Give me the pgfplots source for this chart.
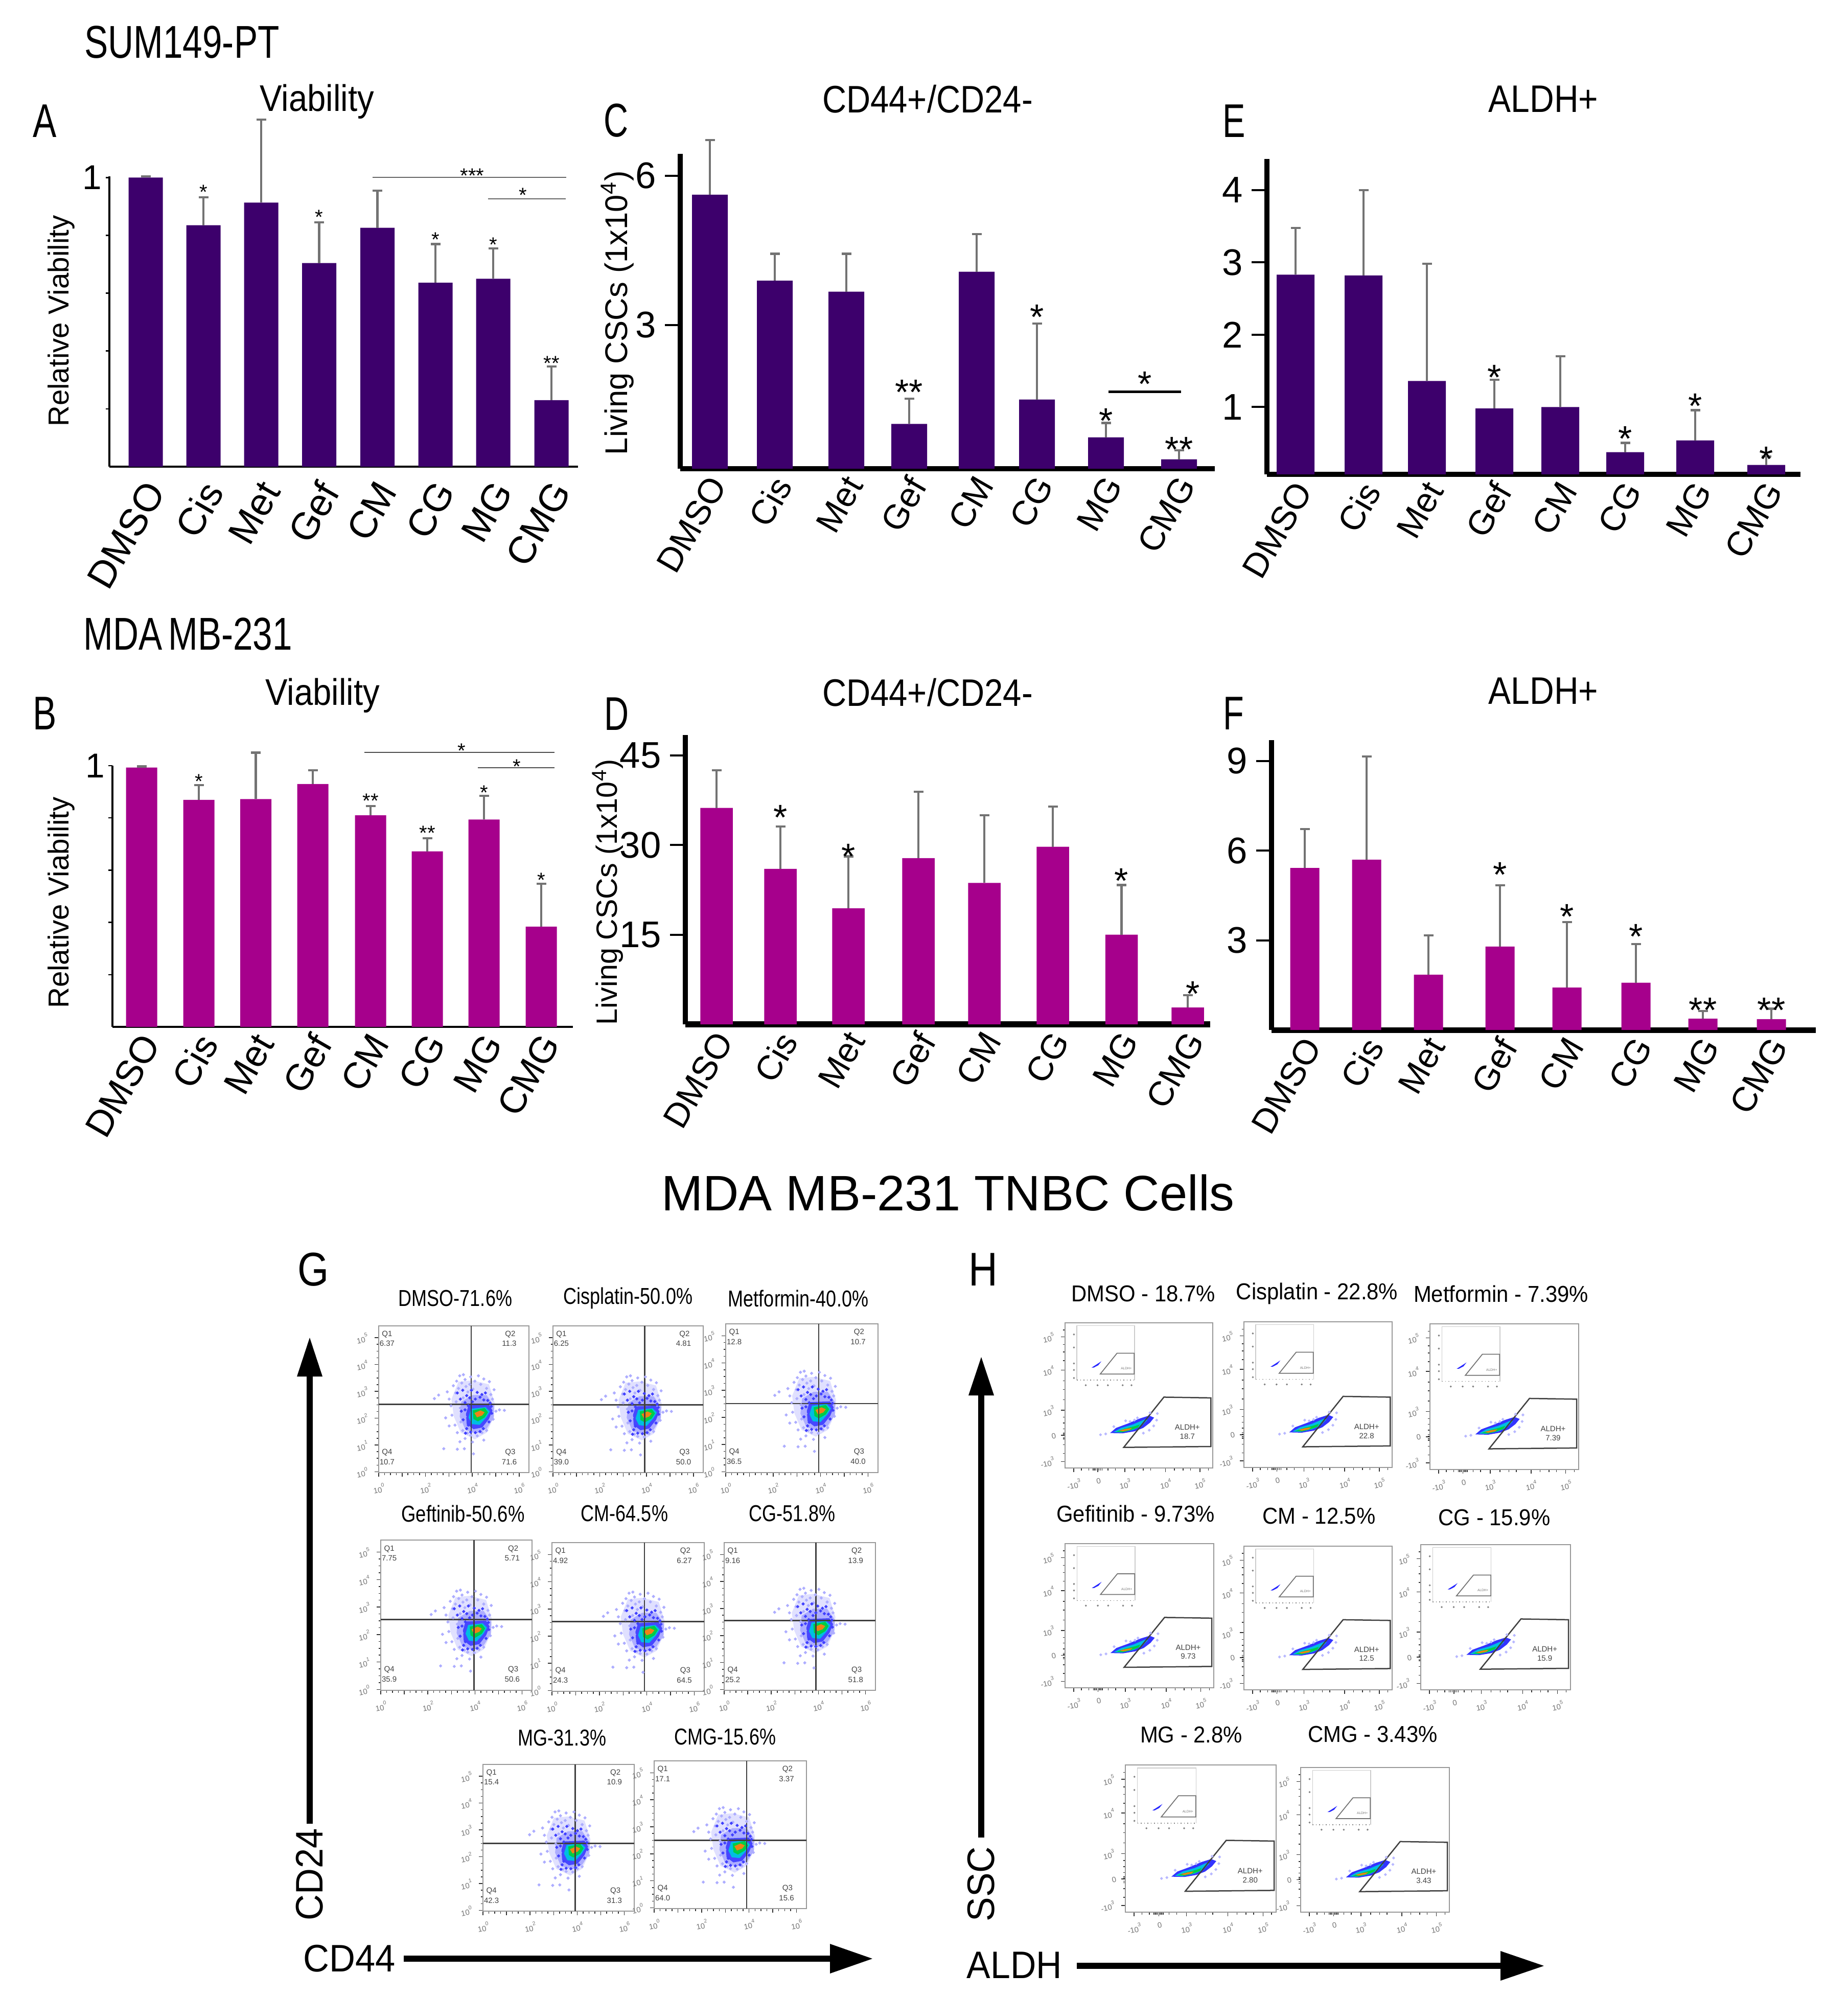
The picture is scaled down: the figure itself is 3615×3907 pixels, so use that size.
\documentclass[border=0pt]{standalone}
\usepackage{fontspec}
\usepackage{graphicx}
\usepackage{pgfplots}
\usepackage{pgfplotstable}
\pgfplotsset{compat=1.18}
\setmainfont{Liberation Sans}

\definecolor{dpurple}{RGB}{61,0,108}
\definecolor{dmagenta}{RGB}{166,0,140}
\definecolor{fcyan}{RGB}{0,190,225}
\definecolor{fgreen}{RGB}{0,205,70}
\definecolor{forange}{RGB}{240,130,20}

\newcommand\fs[1]{\fontsize{#1}{#1}\selectfont}
% x, y, size, xscale, text (positions are pixels of the reference)
\newcommand\txt[6][0]{\node[inner sep=0,rotate=#1] at (#2,#3) {\fs{#4}\scalebox{#5}[1]{#6}};}

% bar data: x position (px), bar height, error
\pgfplotstableread{
x v e
285 1.000 .004
398 .835 .097
511 .913 .287
624.5 .704 .141
738.5 .826 .128
852 .636 .134
965 .65 .105
1079 .23 .117
}\tabA
\pgfplotstableread{
x v e
277 .993 .004
389 .869 .056
500.5 .872 .178
612 .93 .052
725 .81 .035
836 .672 .05
947 .794 .091
1059 .384 .164
}\tabB
\pgfplotstableread{
x v e
1389 5.62 1.10
1516 3.89 .54
1656 3.67 .76
1779 1.01 .51
1911 4.07 .76
2029 1.50 1.53
2164 .74 .29
2307 .30 .18
}\tabC
\pgfplotstableread{
x v e
1402 36.2 6.3
1527 26.0 7.1
1660 19.4 8.7
1797 27.8 11.1
1926 23.65 11.35
2060 29.7 6.75
2194.5 15 8.3
2324 2.82 2.08
}\tabD
\pgfplotstableread{
x v e
2535 2.83 .645
2668 2.82 1.18
2792 1.36 1.62
2924 .98 .40
3053 1.0 .70
3180 .376 .128
3317 .54 .417
3456 .20 .115
}\tabE
\pgfplotstableread{
x v e
2553 5.42 1.31
2674 5.70 3.46
2795 1.85 1.31
2935 2.79 2.05
3066 1.42 2.19
3201 1.58 1.30
3332 .38 .25
3466 .36 .35
}\tabF

% flow cytometry, CD44/CD24 cloud, offsets in decades from the densest spot
\pgfplotstableread{
dx dy
-1.93 .57
-1.75 .70
-1.38 .82
-1.30 .55
-1.22 .30
-1.18 -.05
-1.45 -.15
-1.30 -.45
-1.05 -.42
-1.12 1.05
-1.02 .78
-.98 1.22
-.90 .95
-.85 1.42
-.76 1.15
-.69 1.46
-.62 1.28
-.58 1.02
-.50 .82
-.42 1.10
-.38 1.38
-.28 .92
-.20 1.22
-.05 1.42
.05 1.10
.18 1.30
.30 .95
.42 1.20
.48 .72
.55 .55
.62 .90
-1.00 .45
-.82 .22
-.70 .60
-.62 -.10
-.80 -.30
-.95 -.70
-.72 -.62
-.84 -1.04
-.62 -.92
-.52 -.72
-.38 -.80
-.30 -1.05
-.10 -.82
.10 -.70
.18 -.98
.30 -.62
-1.53 -1.30
-.95 -1.32
-.65 -1.30
-.26 -1.49
.58 -.20
.70 .10
.85 .15
1.06 .13
}\gPale
\pgfplotstableread{
dx dy
-.95 .78
-.82 .55
-.72 .88
-.62 .42
-.55 .68
-.48 .30
-.42 .60
-.35 .88
-.30 .45
-.18 .55
-.10 .80
.02 .62
.10 .72
.18 .52
.25 .78
.35 .50
.45 .40
-.78 .10
-.70 -.22
-.62 .15
-.55 -.55
-.48 -.42
-.60 -.72
-.38 -.68
-.18 -.70
.02 -.66
.16 -.55
.40 -.30
.52 .02
.50 .28
}\gMid
\pgfplotstableread{
dx dy
-1.2 .55
-.9 1.2
-.3 1.25
.4 1.1
.65 .4
.62 -.1
.3 -.7
-.2 -.95
-.8 -.7
-1.1 -.1
}\gHalo
\pgfplotstableread{
dx dy
-.78 .45
-.3 .7
.3 .7
.62 .3
.6 -.15
.3 -.55
-.1 -.72
-.6 -.6
-.85 -.1
}\gHaloB
\pgfplotstableread{
dx dy
-.47 .32
.40 .35
.55 .13
.40 -.19
.11 -.51
-.26 -.57
-.55 -.38
-.58 0
}\gBlue
\pgfplotstableread{
dx dy
-.36 .19
.26 .25
.44 .09
.29 -.13
0 -.41
-.33 -.38
-.47 -.13
}\gCyan
\pgfplotstableread{
dx dy
-.29 .13
.22 .22
.36 .06
.22 -.13
-.07 -.28
-.26 -.19
}\gGreen
\pgfplotstableread{
dx dy
-.22 .03
.04 .13
.22 .06
.11 -.06
-.11 -.13
}\gOrange

% flow cytometry, ALDH panels, fractions of the frame
\pgfplotstableread{
x y
.397 .142
.669 .488
.987 .483
.987 .148
}\hGate
\pgfplotstableread{
x y
.238 .647
.352 .791
.468 .791
.468 .647
}\hMini
\pgfplotstableread{
x y
.305 .241
.345 .276
.425 .306
.506 .341
.569 .361
.603 .347
.575 .312
.529 .276
.471 .253
.391 .239
}\hBlue
\pgfplotstableread{
x y
.328 .247
.379 .276
.46 .3
.54 .335
.557 .33
.517 .288
.46 .262
.379 .244
}\hCyan
\pgfplotstableread{
x y
.345 .25
.402 .27
.471 .288
.506 .3
.494 .279
.448 .262
.391 .247
}\hGreen
\pgfplotstableread{
x y
.368 .259
.414 .27
.454 .276
.437 .262
.391 .253
}\hOrange
\pgfplotstableread{
x y
.24 .229
.275 .235
.33 .285
.44 .32
.47 .33
.575 .38
.625 .375
.62 .33
.60 .29
.57 .26
.53 .24
.49 .345
.41 .325
}\hPale
\pgfplotstableread{
x y
.18 .692
.205 .708
.246 .735
.225 .708
.195 .692
}\hTiny

\pgfplotsset{
  barax/.style={
    scale only axis, anchor=south west, clip=false,
    axis x line*=bottom, axis y line*=left,
    axis line style={-},
    /pgf/number format/assume math mode=true,
    xtick=data,
    xticklabels={DMSO,Cis,Met,Gef,CM,CG,MG,CMG},
    xticklabel style={rotate=60,anchor=north east,font=\fs{13.5},inner sep=0,xshift=3.2pt,yshift=3.24pt},
    yticklabel style={font=\fs{14.5}},
    x tick style={draw=none},
    y tick style={black},
    tick align=outside,
    major tick length=6pt,
  },
  thinax/.style={
    xticklabel style={font=\fs{15},xshift=-6.2pt,yshift=-3.74pt},
    x axis line style={line width=.9pt},y axis line style={line width=.8pt},
    y tick style={line width=.5pt},major tick length=1.5pt,
    yticklabel style={font=\fs{13.5},xshift=2pt},
  },
  flowax/.style={
    scale only axis, anchor=south west,
    axis line style={black!40,line width=.45pt},
    xtick pos=bottom, ytick pos=left,
    tick align=outside,
    tick style={black!80,line width=.3pt},
    major tick length=1.6pt, minor tick length=.9pt,
    ticklabel style={font=\fs{3},text=black!55,inner sep=.5pt,rotate=12},
  },
  gax/.style={
    flowax,
    xmin=0,xmax=6.42,ymin=-.03,ymax=5.44,
    xtick={0,1,...,6},
    xticklabels={10\textsuperscript{0},,10\textsuperscript{2},,10\textsuperscript{4},,10\textsuperscript{6}},
    ytick={0,1,...,5},
    yticklabels={10\textsuperscript{0},10\textsuperscript{1},10\textsuperscript{2},10\textsuperscript{3},10\textsuperscript{4},10\textsuperscript{5}},
    minor tick num=3,
    xticklabel style={yshift=-1.5pt},
    yticklabel style={xshift=-1pt},
  },
  hax/.style={
    flowax,
    xmin=0,xmax=1,ymin=0,ymax=1,
    xtick={.058,.222,.405,.68,.913},
    xticklabels={-10\textsuperscript{3},0,10\textsuperscript{3},10\textsuperscript{4},10\textsuperscript{5}},
    ytick={.045,.225,.398,.674,.903},
    yticklabels={-10\textsuperscript{3},0,10\textsuperscript{3},10\textsuperscript{4},10\textsuperscript{5}},
    minor xtick={.11,.16,.19,.2,.21,.23,.24,.25,.29,.34,.47,.53,.58,.74,.8,.85,.97},
    minor ytick={.1,.16,.2,.21,.23,.24,.27,.31,.35,.47,.54,.6,.74,.8,.85,.95},
    xticklabel style={yshift=-1.5pt},
    yticklabel style={xshift=-1pt},
  },
}

% L R T B options table colour body
\newcommand\barplot[8]{%
  \pgfmathsetlengthmacro\W{(#2-#1)*0.2pt}%
  \pgfmathsetlengthmacro\H{(#4-#3)*0.2pt}%
  \begin{axis}[barax,at={(#1*0.2pt,-#4*0.2pt)},width=\W,height=\H,xmin=#1,xmax=#2,#5]
    \addplot[ybar,bar width=\barw,fill=#7,draw=none,
      error bars/.cd,y dir=plus,y explicit,
      error bar style={black!55,line width=.95pt},
      error mark options={rotate=90,black!55,mark size=1.9pt,line width=.85pt}]
      table[x=x,y=v,y error=e] {#6};
    #8
  \end{axis}}
% size, then "(x,y)[text]" coordinates
\newcommand\stars[2]{%
  \addplot[draw=none,mark=none,nodes near coords,point meta=explicit symbolic,
    every node near coord/.append style={anchor=center,inner sep=0,font=\fs{#1},yshift=-#1*0.22pt}]
    coordinates {#2};}

% L R T B vline hline hotx hoty q1/q2/q3/q4
\def\splitq#1/#2/#3/#4\relax{\def\qa{#1}\def\qb{#2}\def\qc{#3}\def\qd{#4}}
\newcommand\gpanel[9]{%
  \pgfmathsetlengthmacro\W{(#2-#1)*0.2pt}%
  \pgfmathsetlengthmacro\H{(#4-#3)*0.2pt}%
  \splitq#9\relax
  \begin{axis}[gax,at={(#1*0.2pt,-#4*0.2pt)},width=\W,height=\H]
    \addplot[fill=blue!12,draw=none] table[x expr=\thisrow{dx}+#7,y expr=\thisrow{dy}+#8] {\gHalo} -- cycle;
    \addplot[only marks,mark=*,mark size=.38pt,blue!32,mark options={draw=none}] table[x expr=\thisrow{dx}+#7,y expr=\thisrow{dy}+#8] {\gPale};
    \addplot[fill=blue!32,draw=none] table[x expr=\thisrow{dx}+#7,y expr=\thisrow{dy}+#8] {\gHaloB} -- cycle;
    \addplot[only marks,mark=*,mark size=.38pt,blue!75,mark options={draw=none}] table[x expr=\thisrow{dx}+#7,y expr=\thisrow{dy}+#8] {\gMid};
    \addplot[fill=blue!72,draw=none] table[x expr=\thisrow{dx}+#7,y expr=\thisrow{dy}+#8] {\gBlue} -- cycle;
    \addplot[fill=fcyan,draw=none] table[x expr=\thisrow{dx}+#7,y expr=\thisrow{dy}+#8] {\gCyan} -- cycle;
    \addplot[fill=fgreen,draw=none] table[x expr=\thisrow{dx}+#7,y expr=\thisrow{dy}+#8] {\gGreen} -- cycle;
    \addplot[fill=forange,draw=none] table[x expr=\thisrow{dx}+#7,y expr=\thisrow{dy}+#8] {\gOrange} -- cycle;
    \addplot[black!75,line width=.55pt] coordinates {(0,#6) (6.42,#6)};
    \addplot[black!75,line width=.55pt] coordinates {(#5,-.03) (#5,5.44)};
    \addplot[draw=none,mark=none,nodes near coords,point meta=explicit symbolic,
      every node near coord/.append style={anchor=center,inner sep=0,font=\fs{3},text=black!75}]
      coordinates {(.36,5.12)[Q1] (.36,4.78)[\qa] (5.62,5.12)[Q2] (5.58,4.78)[\qb]
                   (5.62,.72)[Q3] (5.58,.37)[\qc] (.36,.72)[Q4] (.36,.37)[\qd]};
  \end{axis}}

% L R T B value
\newcommand\hpanel[5]{%
  \pgfmathsetlengthmacro\W{(#2-#1)*0.2pt}%
  \pgfmathsetlengthmacro\H{(#4-#3)*0.2pt}%
  \begin{axis}[hax,at={(#1*0.2pt,-#4*0.2pt)},width=\W,height=\H]
    \addplot[black!20,line width=.3pt] coordinates {(.08,.605) (.08,.98) (.47,.98) (.47,.605)};
    \addplot[black!50,line width=.3pt,densely dotted] coordinates {(.08,.605) (.47,.605)};
    \addplot[only marks,mark=*,mark size=.12pt,black!50,mark options={draw=none}] coordinates
      {(.06,.92) (.06,.83) (.06,.72) (.06,.675) (.06,.62) (.14,.57) (.22,.57) (.29,.57) (.39,.57) (.45,.57)};
    \addplot[black!55,line width=.35pt] table {\hMini} -- cycle;
    \addplot[fill=blue!85,draw=none] table {\hTiny} -- cycle;
    \addplot[only marks,mark=*,mark size=.32pt,blue!28,mark options={draw=none}] table {\hPale};
    \addplot[fill=blue!80,draw=none] table {\hBlue} -- cycle;
    \addplot[fill=fcyan,draw=none] table {\hCyan} -- cycle;
    \addplot[fill=fgreen,draw=none] table {\hGreen} -- cycle;
    \addplot[fill=forange,draw=none] table {\hOrange} -- cycle;
    \addplot[black!75,line width=.5pt] table {\hGate} -- cycle;
    \addplot[draw=none,mark=none,nodes near coords,point meta=explicit symbolic,
      every node near coord/.append style={anchor=center,inner sep=0,font=\fs{3},text=black!75}]
      coordinates {(.828,.28)[ALDH+] (.828,.218)[#5]};
    \addplot[draw=none,mark=none,nodes near coords,point meta=explicit symbolic,
      every node near coord/.append style={anchor=center,inner sep=0,font=\fs{1.3},text=black!55}]
      coordinates {(.415,.685)[ALDH+]};
  \end{axis}}

\begin{document}
\begin{tikzpicture}[x=0.2pt,y=-0.2pt]
\path[use as bounding box] (0,0) rectangle (3615,3907);

% panel A
\def\barw{67}
\barplot{214}{1131}{345}{913}{thinax,ymin=0,ymax=1.004,ytick={.2,.4,.6,.8,1},yticklabels={,,,,1}}{\tabA}{dpurple}{%
  \addplot[black!60,line width=.4pt] coordinates {(729,1.0) (1108,1.0)};
  \addplot[black!60,line width=.4pt] coordinates {(955,.927) (1107,.927)};
  \stars{8}{(398,.966)[*] (624.5,.878)[*] (852,.80)[*] (965,.784)[*] (1079,.373)[**] (924,1.022)[***] (1023,.955)[*]}}

% panel B
\def\barw{61}
\barplot{220}{1121}{1498}{2009}{thinax,xticklabel style={font=\fs{14.5},xshift=2.6pt,yshift=1.5pt},ymin=0,ymax=1,ytick={.2,.4,.6,.8,1},yticklabels={,,,,1}}{\tabB}{dmagenta}{%
  \addplot[black!70,line width=.4pt] coordinates {(713,1.05) (1085,1.05)};
  \addplot[black!70,line width=.4pt] coordinates {(935,.993) (1085,.993)};
  \stars{8}{(389,.957)[*] (725,.882)[**] (836,.759)[**] (947,.915)[*] (1059,.579)[*] (903,1.075)[*] (1011,1.013)[*]}}

% panel C
\def\barw{70}
\barplot{1331}{2377}{301}{917}{ymin=.11,ymax=6.44,ytick={3,6},
  x axis line style={line width=1.9pt},y axis line style={line width=1.9pt},
  y tick style={line width=.8pt}}{\tabC}{dpurple}{%
  \addplot[black,line width=.9pt] coordinates {(2169,1.655) (2311,1.655)};
  \stars{14}{(1779,1.81)[**] (2029,3.32)[*] (2164,1.23)[*] (2307,.655)[**] (2240,1.97)[*]}}

% panel D
\def\barw{63.5}
\barplot{1341}{2368}{1438}{2004}{ymin=0,ymax=48.4,ytick={15,30,45},
  x axis line style={line width=2.4pt},y axis line style={line width=2pt},
  y tick style={line width=.8pt}}{\tabD}{dmagenta}{%
  \stars{14}{(1527,35.9)[*] (1660,29.4)[*] (2194.5,25.3)[*] (2334,6.4)[*]}}

% panel E
\def\barw{74}
\barplot{2479}{3523}{311}{928}{ymin=.07,ymax=4.43,ytick={1,2,3,4},
  x axis line style={line width=1.9pt},y axis line style={line width=1.9pt},
  y tick style={line width=.8pt}}{\tabE}{dpurple}{%
  \stars{14}{(2924,1.52)[*] (3180,.67)[*] (3317,1.12)[*] (3456,.386)[*]}}

% panel F
\def\barw{57}
\barplot{2488}{3553}{1448}{2015}{ymin=0,ymax=9.7,ytick={3,6,9},
  x axis line style={line width=2.2pt},y axis line style={line width=2pt},
  y tick style={line width=.8pt}}{\tabF}{dmagenta}{%
  \stars{14}{(2935,5.45)[*] (3066,4.06)[*] (3201,3.39)[*] (3332,.92)[**] (3466,.92)[**]}}

% headings of the bar charts
\txt{356}{83}{18}{.77}{SUM149-PT}
\txt{368}{1240}{18}{.77}{MDA\,MB-231}
\txt{620}{199}{14.5}{.9}{Viability}
\txt{631}{1361}{14.5}{.9}{Viability}
\txt{1815}{194}{15}{.87}{CD44+/CD24-}
\txt{1815}{1355}{15}{.87}{CD44+/CD24-}
\txt{3020}{194}{15}{.88}{ALDH+}
\txt{3020}{1352}{15}{.88}{ALDH+}
\txt{88}{237}{18.5}{.75}{A}
\txt{88}{1396}{18.5}{.75}{B}
\txt{1206}{236}{18.5}{.72}{C}
\txt{1207}{1397}{18.5}{.72}{D}
\txt{2415}{237}{18.5}{.72}{E}
\txt{2414}{1396}{18.5}{.72}{F}
\txt[90]{120}{628}{11.3}{1}{Relative Viability}
\txt[90]{120}{1766}{11.3}{1}{Relative Viability}
\txt[90]{1208}{612}{12.3}{1}{Living CSCs (1x10\textsuperscript{4})}
\txt[90]{1189}{1745}{11.5}{1}{Living CSCs (1x10\textsuperscript{4})}

\txt{1855}{2334}{19.5}{1}{MDA MB-231 TNBC Cells}
\txt{613}{2484}{18.5}{.85}{G}
\txt{1924}{2484}{18.5}{.85}{H}

% CD44/CD24 panels
\gpanel{741}{1035}{2594}{2881}{3.95}{2.52}{4.31}{2.16}{6.37/11.3/71.6/10.7}
\gpanel{1082}{1376}{2594}{2881}{3.92}{2.50}{4.00}{2.12}{6.25/4.81/50.0/39.0}
\gpanel{1420}{1718}{2590}{2881}{3.92}{2.51}{4.00}{2.24}{12.8/10.7/40.0/36.5}
\gpanel{745}{1041}{3013}{3307}{3.95}{2.55}{4.07}{2.16}{7.75/5.71/50.6/35.9}
\gpanel{1080}{1378}{3018}{3309}{3.90}{2.53}{4.10}{2.16}{4.92/6.27/64.5/24.3}
\gpanel{1417}{1713}{3018}{3307}{3.90}{2.55}{4.07}{2.29}{9.16/13.9/51.8/25.2}
\gpanel{945}{1241}{3452}{3739}{3.91}{2.50}{3.91}{2.25}{15.4/10.9/31.3/42.3}
\gpanel{1280}{1578}{3445}{3734}{3.90}{2.50}{3.60}{2.25}{17.1/3.37/15.6/64.0}

\txt{891}{2540}{9}{.8}{DMSO-71.6\%}
\txt{1229}{2540}{9}{.8}{Cisplatin-50.0\%}
\txt{1562}{2540}{9}{.8}{Metformin-40.0\%}
\txt{906}{2961}{9}{.81}{Geftinib-50.6\%}
\txt{1222}{2961}{9}{.8}{CM-64.5\%}
\txt{1550}{2961}{9}{.8}{CG-51.8\%}
\txt{1100}{3400}{9}{.8}{MG-31.3\%}
\txt{1419}{3398}{9}{.8}{CMG-15.6\%}

% ALDH panels
\hpanel{2084}{2373}{2588}{2872}{18.7}
\hpanel{2434}{2724}{2586}{2871}{22.8}
\hpanel{2798}{3089}{2590}{2875}{7.39}
\hpanel{2084}{2375}{3020}{3302}{9.73}
\hpanel{2434}{2724}{3025}{3306}{12.5}
\hpanel{2780}{3073}{3022}{3306}{15.9}
\hpanel{2202}{2497}{3453}{3741}{2.80}
\hpanel{2545}{2836}{3458}{3741}{3.43}

\txt{2237}{2531}{9}{.93}{DMSO - 18.7\%}
\txt{2577}{2531}{9}{.93}{Cisplatin - 22.8\%}
\txt{2937}{2531}{9}{.93}{Metformin - 7.39\%}
\txt{2222}{2961}{9}{.93}{Gefitinib - 9.73\%}
\txt{2581}{2966}{9}{.93}{CM - 12.5\%}
\txt{2924}{2969}{9}{.93}{CG - 15.9\%}
\txt{2331}{3394}{9}{.93}{MG - 2.8\%}
\txt{2686}{3393}{9}{.93}{CMG - 3.43\%}

% arrows beside the dot plots
\draw[line width=2.4pt] (606,3568) -- (606,2680);
\fill (606,2617) -- (631,2693) -- (581,2693) -- cycle;
\draw[line width=2.4pt] (790,3832) -- (1630,3832);
\fill (1707,3832) -- (1624,3803) -- (1624,3861) -- cycle;
\draw[line width=2.4pt] (1920,3595) -- (1920,2720);
\fill (1920,2655) -- (1945,2730) -- (1895,2730) -- cycle;
\draw[line width=2.4pt] (2107,3846) -- (2940,3846);
\fill (3021,3846) -- (2936,3817) -- (2936,3875) -- cycle;
\txt[90]{606}{3667}{15}{.94}{CD24}
\txt{684}{3832}{15}{.94}{CD44}
\txt[90]{1920}{3686}{15}{.95}{SSC}
\txt{1985}{3845}{15}{.93}{ALDH}
\end{tikzpicture}
\end{document}
